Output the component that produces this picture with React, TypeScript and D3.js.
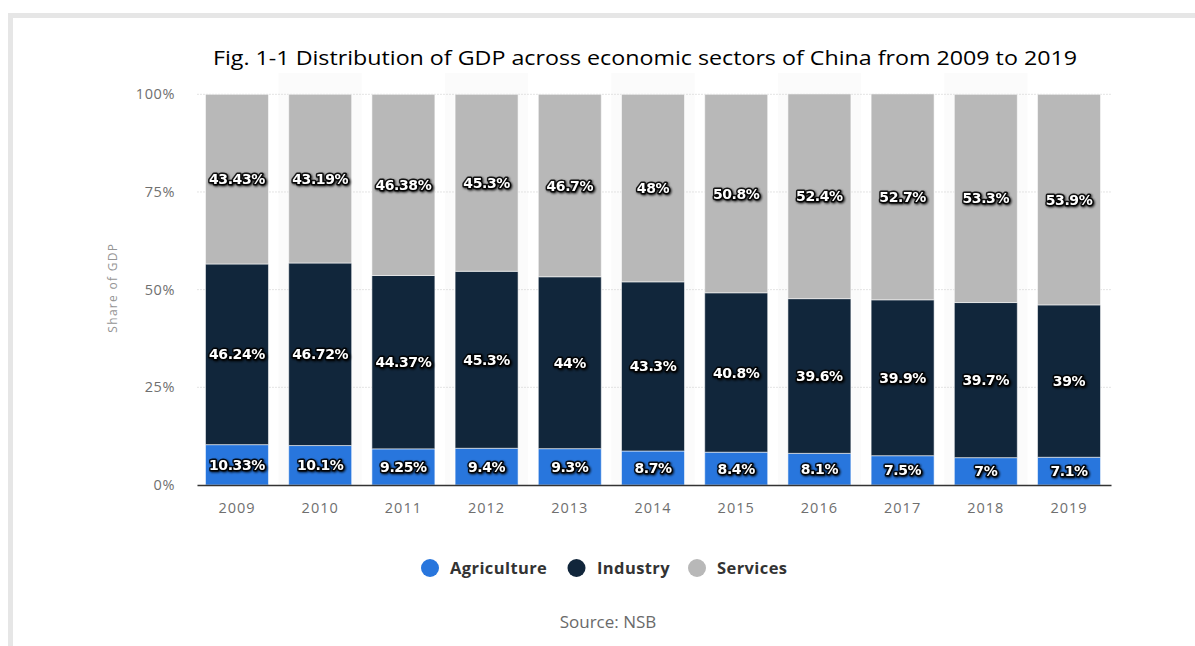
import React from "react";
import * as d3 from "d3";

const years = ["2009", "2010", "2011", "2012", "2013", "2014", "2015", "2016", "2017", "2018", "2019"];
const agriculture = [10.33, 10.1, 9.25, 9.4, 9.3, 8.7, 8.4, 8.1, 7.5, 7, 7.1];
const industry = [46.24, 46.72, 44.37, 45.3, 44, 43.3, 40.8, 39.6, 39.9, 39.7, 39];
const services = [43.43, 43.19, 46.38, 45.3, 46.7, 48, 50.8, 52.4, 52.7, 53.3, 53.9];
const seriesNames = ["Agriculture", "Industry", "Services"];
const seriesColors = ["#2876dd", "#11263b", "#b8b8b8"];
const yTicks = [0, 25, 50, 75, 100];

const W = 1195;
const H = 646;

export default function App() {
  const x = d3.scaleBand<string>().domain(years).range([195.5, 1110.5]).paddingInner(0.243).paddingOuter(0.12);
  const y = d3.scaleLinear().domain([0, 100]).range([485, 94.3]);
  const bw = x.bandwidth();
  const step = x.step();

  const rows = years.map((yr, i) => ({
    year: yr,
    Agriculture: agriculture[i],
    Industry: industry[i],
    Services: services[i],
  }));
  const stack = d3.stack<any>().keys(seriesNames)(rows);

  const axisX0 = (x(years[0]) as number) - 8;
  const axisX1 = (x(years[years.length - 1]) as number) + bw + 11;

  const legendItems = [
    { name: "Agriculture", cx: 430, tx: 450 },
    { name: "Industry", cx: 576.5, tx: 597 },
    { name: "Services", cx: 697, tx: 717 },
  ];

  return (
    <svg width={W} height={H} style={{ position: "absolute", left: 0, top: 0 }} xmlns="http://www.w3.org/2000/svg">
      <defs>
        <filter id="lblShadow" x="-20%" y="-40%" width="140%" height="180%">
          <feDropShadow dx="1" dy="1" stdDeviation="0.9" floodColor="#000" floodOpacity="0.95" />
        </filter>
      </defs>
      <rect x={0} y={0} width={W} height={H} fill="#fff" />
      <rect x={8} y={13} width={1300} height={800} fill="#e6e6e6" />
      <rect x={13} y={18} width={1300} height={800} fill="#fff" />

      {/* alternating column bands */}
      {years.map((yr, i) =>
        i % 2 === 1 ? (
          <rect
            key={"band" + yr}
            x={(x(yr) as number) - (step - bw) / 2}
            y={73}
            width={step}
            height={y(0) - 73}
            fill="#fbfbfb"
          />
        ) : null
      )}

      {/* title */}
      <text
        x={645}
        y={65}
        textAnchor="middle"
        fontFamily="'Open Sans', sans-serif"
        fontSize={20.5}
        fill="#000"
        textLength={864}
        lengthAdjust="spacingAndGlyphs"
      >
        Fig. 1-1 Distribution of GDP across economic sectors of China from 2009 to 2019
      </text>

      {/* grid */}
      {yTicks.filter((t) => t > 0).map((t) => (
        <line
          key={"g" + t}
          x1={axisX0}
          x2={axisX1}
          y1={y(t)}
          y2={y(t)}
          stroke="#c8c8c8"
          strokeWidth={1}
          strokeDasharray="1,2"
        />
      ))}

      {/* y tick labels */}
      {yTicks.map((t) => (
        <text
          key={"yt" + t}
          x={175}
          y={y(t)}
          dy="0.35em"
          textAnchor="end"
          fontFamily="'Open Sans', sans-serif"
          fontSize={14.5}
          letterSpacing={0.6}
          fill="#6f6f6f"
        >
          {t + "%"}
        </text>
      ))}

      {/* y axis title */}
      <text
        transform={`translate(117,${(y(0) + y(100)) / 2 - 2}) rotate(-90)`}
        textAnchor="middle"
        fontFamily="'Open Sans', sans-serif"
        fontSize={12}
        letterSpacing={1.3}
        fill="#959595"
      >
        Share of GDP
      </text>

      {/* bars */}
      {stack.map((layer, si) =>
        layer.map((d, i) => (
          <rect
            key={"b" + si + "-" + i}
            x={x(years[i]) as number}
            y={y(d[1])}
            width={bw}
            height={y(d[0]) - y(d[1])}
            fill={seriesColors[si]}
            stroke="rgba(255,255,255,0.55)"
            strokeWidth={1}
          />
        ))
      )}

      {/* x axis line */}
      <line x1={axisX0} x2={axisX1} y1={y(0) + 0.5} y2={y(0) + 0.5} stroke="#333" strokeWidth={1.3} />

      {/* bar labels */}
      {stack.map((layer, si) =>
        layer.map((d, i) => {
          const v = [agriculture, industry, services][si][i];
          return (
            <text
              key={"l" + si + "-" + i}
              x={(x(years[i]) as number) + bw / 2}
              y={(y(d[0]) + y(d[1])) / 2}
              dy="0.36em"
              textAnchor="middle"
              fontFamily="'DejaVu Sans', Verdana, sans-serif"
              fontWeight="bold"
              fontSize={14}
              letterSpacing={-0.4}
              fill="#fff"
              stroke="#000"
              strokeWidth={3}
              strokeOpacity={0.85}
              strokeLinejoin="round"
              paintOrder="stroke"
              filter="url(#lblShadow)"
            >
              {v + "%"}
            </text>
          );
        })
      )}

      {/* x tick labels */}
      {years.map((yr) => (
        <text
          key={"xt" + yr}
          x={(x(yr) as number) + bw / 2}
          y={513}
          textAnchor="middle"
          fontFamily="'Open Sans', sans-serif"
          fontSize={14.5}
          letterSpacing={1}
          fill="#6f6f6f"
        >
          {yr}
        </text>
      ))}

      {/* legend */}
      {legendItems.map((it, i) => (
        <g key={"lg" + it.name}>
          <circle cx={it.cx} cy={568} r={9} fill={seriesColors[i]} />
          <text
            x={it.tx}
            y={568}
            dy="0.35em"
            fontFamily="'Open Sans', sans-serif"
            fontWeight="bold"
            fontSize={16.5}
            letterSpacing={0.4}
            fill="#333"
          >
            {it.name}
          </text>
        </g>
      ))}

      {/* source */}
      <text
        x={608}
        y={628}
        textAnchor="middle"
        fontFamily="'Open Sans', sans-serif"
        fontSize={17}
        fill="#6a6a6a"
      >
        Source: NSB
      </text>
    </svg>
  );
}
